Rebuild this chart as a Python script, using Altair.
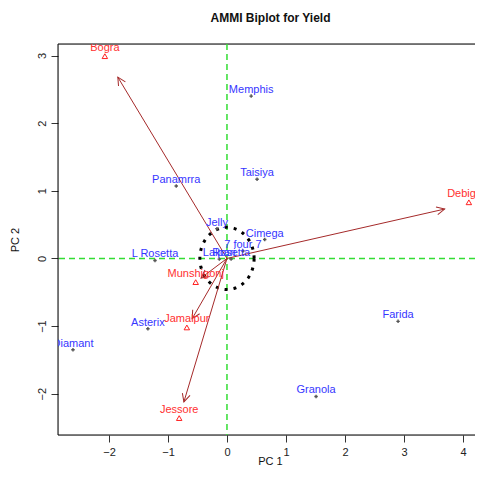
import math
import altair as alt
import pandas as pd

# ---- data ----
geno_names = ["Memphis", "Taisiya", "Panamrra", "Jelly", "Cimega", "7 four 7",
              "L Rosetta", "Lalpari", "Rosetta", "Asterix", "Diamant", "Farida", "Granola"]
geno_pc1 = [0.41, 0.51, -0.86, -0.17, 0.64, 0.27, -1.22, -0.13, 0.07, -1.34, -2.61, 2.90, 1.51]
geno_pc2 = [2.40, 1.17, 1.07, 0.44, 0.28, 0.11, -0.03, -0.01, -0.01, -1.04, -1.35, -0.93, -2.04]

env_names = ["Bogra", "Debigonj", "Munshigonj", "Jamalpur", "Jessore"]
env_pc1 = [-2.07, 4.10, -0.53, -0.68, -0.81]
env_pc2 = [2.99, 0.83, -0.35, -1.02, -2.36]
arrow_pc1 = [-1.85, 3.69, -0.44, -0.59, -0.73]
arrow_pc2 = [2.68, 0.73, -0.29, -0.89, -2.12]

x_ticks = [-2, -1, 0, 1, 2, 3, 4]
y_ticks = [-2, -1, 0, 1, 2, 3]
circle_radius = 0.46

X_DOMAIN = [-2.864, 4.204]
Y_DOMAIN = [-2.61, 3.17]
W, H = 417, 391
FONT = "Liberation Sans"

kx = W / (X_DOMAIN[1] - X_DOMAIN[0])
ky = H / (Y_DOMAIN[1] - Y_DOMAIN[0])

geno = pd.DataFrame({"name": geno_names, "x": geno_pc1, "y": geno_pc2})
env = pd.DataFrame({"name": env_names, "x": env_pc1, "y": env_pc2})
arrows = pd.DataFrame({
    "name": env_names,
    "x0": [0.0] * len(env_names), "y0": [0.0] * len(env_names),
    "x": arrow_pc1, "y": arrow_pc2,
    "ang": [math.degrees(math.atan2(a * kx, b * ky)) for a, b in zip(arrow_pc1, arrow_pc2)],
})
n = 120
circle = pd.DataFrame({
    "i": list(range(n + 1)),
    "x": [circle_radius * math.cos(2 * math.pi * i / n) for i in range(n + 1)],
    "y": [circle_radius * math.sin(2 * math.pi * i / n) for i in range(n + 1)],
})

xs = alt.Scale(domain=X_DOMAIN, nice=False, zero=False)
ys = alt.Scale(domain=Y_DOMAIN, nice=False, zero=False)
xaxis = alt.Axis(values=x_ticks, title="PC 1", grid=False, domain=False, tickSize=7,
                 tickColor="#333333", labelPadding=4, labelFontSize=11, labelColor="#222222",
                 titleFontSize=11, titleFontWeight="normal", titleColor="#111111",
                 titleY=26, titleX=212, titleBaseline="middle")
yaxis = alt.Axis(values=y_ticks, title="PC 2", grid=False, domain=False, tickSize=7,
                 tickColor="#333333", labelPadding=6, labelFontSize=11, labelColor="#222222",
                 labelAngle=270, labelAlign="center", labelBaseline="alphabetic",
                 titleFontSize=11, titleFontWeight="normal", titleColor="#111111",
                 titleAngle=270, titleX=-43, titleBaseline="middle")


def X(f):
    return alt.X(f, type="quantitative", scale=xs, axis=xaxis)


def Y(f):
    return alt.Y(f, type="quantitative", scale=ys, axis=yaxis)


# frame (left, top, bottom; the right edge lies off the picture in the reference)
frame_v = alt.Chart(pd.DataFrame({"x": [X_DOMAIN[0]]})).mark_rule(
    color="black", strokeWidth=1).encode(x=X("x"))
frame_h = alt.Chart(pd.DataFrame({"y": [Y_DOMAIN[0], Y_DOMAIN[1]]})).mark_rule(
    color="black", strokeWidth=1).encode(y=Y("y"))

green = "#33dd33"
vline = alt.Chart(pd.DataFrame({"x": [0.0]})).mark_rule(
    color=green, strokeDash=[6, 4], strokeWidth=1.5).encode(x=X("x"))
hline = alt.Chart(pd.DataFrame({"y": [0.0]})).mark_rule(
    color=green, strokeDash=[6, 4], strokeWidth=1.5).encode(y=Y("y"))

circ = alt.Chart(circle).mark_line(
    color="black", strokeDash=[3, 6], strokeWidth=3, strokeCap="butt").encode(
    x=X("x"), y=Y("y"), order="i:Q")

arrow_color = "#a52a2a"
arrow_lines = alt.Chart(arrows).mark_rule(color=arrow_color, strokeWidth=1).encode(
    x=X("x0"), y=Y("y0"), x2="x", y2="y")
arrow_heads = alt.Chart(arrows).mark_point(
    shape="M-0.45,0.9L0,0L0.45,0.9", filled=False, color=arrow_color,
    strokeWidth=1, size=316, opacity=1).encode(
    x=X("x"), y=Y("y"), angle=alt.Angle("ang:Q", scale=None))

geno_pts = alt.Chart(geno).mark_point(
    shape="cross", filled=True, color="#555555", size=12, opacity=1, clip=True).encode(
    x=X("x"), y=Y("y"))
geno_txt = alt.Chart(geno).mark_text(
    dy=-6, fontSize=11, font=FONT, color="#3636ff", clip=True).encode(
    x=X("x"), y=Y("y"), text="name:N")

env_pts = alt.Chart(env).mark_point(
    shape="triangle-up", filled=False, color="#ff2020", size=30, strokeWidth=1,
    opacity=1, clip=True).encode(x=X("x"), y=Y("y"))
env_txt = alt.Chart(env).mark_text(
    dy=-8, fontSize=11, font=FONT, color="#ff3030", clip=True).encode(
    x=X("x"), y=Y("y"), text="name:N")

chart = alt.layer(
    frame_v, frame_h, vline, hline, circ, arrow_lines, arrow_heads,
    geno_pts, geno_txt, env_pts, env_txt
).properties(
    width=W, height=H,
    title=alt.TitleParams("AMMI Biplot for Yield", fontSize=12, font=FONT,
                          fontWeight="bold", anchor="middle", offset=18, dx=4,
                          color="#111111"),
    autosize=alt.AutoSizeParams(type="none"),
    padding={"left": 50, "top": 36, "right": 0, "bottom": 32},
).configure_view(
    stroke=None
).configure_axis(
    labelFont=FONT, titleFont=FONT
).configure(background="white")

chart.save("out.html", embed_options={"renderer": "svg", "actions": False})
